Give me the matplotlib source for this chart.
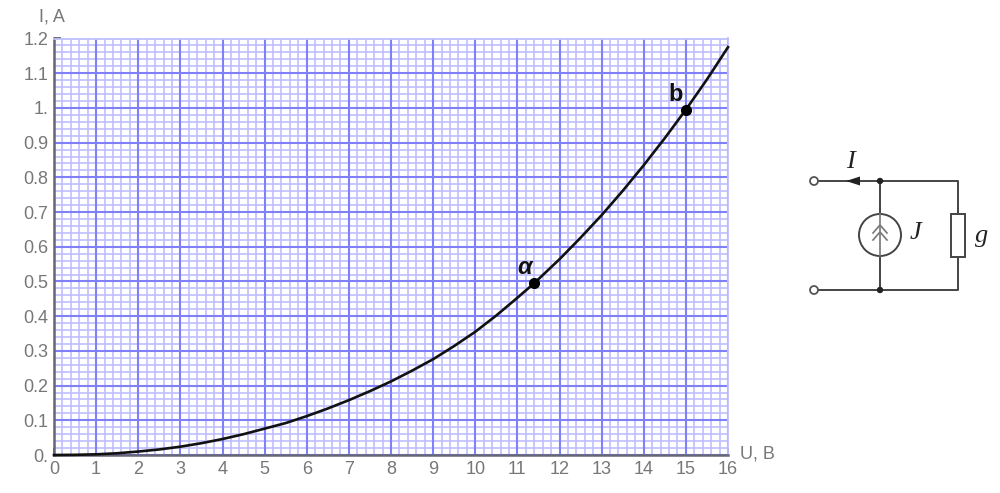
import matplotlib
matplotlib.use('Agg')
import matplotlib.pyplot as plt
from matplotlib.patches import Circle, Rectangle, Polygon

# curve
u_vals = [0, 0.5, 1, 1.5, 2, 2.5, 3, 3.5, 4, 4.5, 5, 5.5, 6, 6.5, 7, 7.5, 8, 8.5, 9, 9.5,
          10, 10.5, 11, 11.4, 12, 12.5, 13, 13.5, 14, 14.5, 15, 15.5, 16]
i_vals = [0, 0.0005, 0.002, 0.005, 0.01, 0.016, 0.024, 0.034, 0.046, 0.06, 0.076, 0.092,
          0.112, 0.134, 0.158, 0.184, 0.212, 0.243, 0.276, 0.314, 0.355, 0.402, 0.453,
          0.495, 0.564, 0.626, 0.691, 0.761, 0.835, 0.913, 0.995, 1.082, 1.175]
point_u = [11.4, 15.0]
point_i = [0.495, 0.995]
point_names = ['α', 'b']
x_ticks = list(range(17))
y_ticks = [i / 10 for i in range(13)]
y_labels = ['0.', '0.1', '0.2', '0.3', '0.4', '0.5', '0.6', '0.7', '0.8', '0.9', '1.', '1.1', '1.2']

# circuit nodes, in picture pixels
term_x, node_x, right_x = 814, 880, 958
top_y, bot_y = 181, 290
src_y, src_r = 235, 21
res_top, res_bot, res_half = 214, 257, 7

W, H = 1000, 493
L, R, T, B = 54, 728, 38.5, 455
grey = '#777777'
major = '#8080f8'
minor = '#bfbfff'

plt.rcParams['font.family'] = ['Liberation Sans', 'DejaVu Sans']
fig = plt.figure(figsize=(10, 4.93), dpi=100)
ax = fig.add_axes([L / W, 1 - B / H, (R - L) / W, (B - T) / H])
ax.set_xlim(0, 16)
ax.set_ylim(0, 1.2)
ax.set_xticks(x_ticks)
ax.set_yticks(y_ticks)
ax.set_yticklabels(y_labels)
ax.set_xticks([i / 5 for i in range(81)], minor=True)
ax.set_yticks([i / 50 for i in range(61)], minor=True)
ax.grid(which='minor', color=minor, lw=1.2)
ax.set_axisbelow(True)
# major lines by hand so the minor grid does not cut through them
ax.vlines(x_ticks, 0, 1.2, color=major, lw=1.5, zorder=1)
ax.hlines(y_ticks, 0, 16, color=major, lw=1.5, zorder=1)
ax.tick_params(which='minor', length=0)
ax.tick_params(which='major', direction='in', length=5, width=1.2, color='#555555',
               labelsize=13, labelcolor=grey, pad=4)
for s in ['left', 'bottom']:
    ax.spines[s].set_color('#666677')
    ax.spines[s].set_linewidth(1.8)
for s in ['top', 'right']:
    ax.spines[s].set_color(minor)
    ax.spines[s].set_linewidth(1.3)

ax.plot(u_vals, i_vals, color='#111111', lw=1.9, clip_on=False, zorder=3)
ax.plot(point_u, point_i, 'o', color='black', ms=7, zorder=4)
ax.annotate(point_names[0], (point_u[0], point_i[0]), xytext=(-7, 11), textcoords='offset points',
            ha='center', va='center', fontsize=17, fontweight='bold', fontstyle='italic', color='#111111')
ax.annotate(point_names[1], (point_u[1], point_i[1]), xytext=(-7, 11), textcoords='offset points',
            ha='center', va='center', fontsize=17, fontweight='bold', color='#111111')

# overlay in picture pixels for axis names and the circuit
ov = fig.add_axes([0, 0, 1, 1])
ov.set_xlim(0, W)
ov.set_ylim(H, 0)
ov.axis('off')
ov.patch.set_alpha(0)
ov.text(52, 17, 'I, A', fontsize=13, color=grey, ha='center', va='center')
ov.text(757, 454, 'U, B', fontsize=13, color=grey, ha='center', va='center')

wire = dict(color='#444444', lw=1.4, solid_capstyle='butt', zorder=1)
ov.plot([term_x, right_x, right_x, term_x], [top_y, top_y, bot_y, bot_y], **wire)
ov.plot([node_x, node_x], [top_y, bot_y], **wire)
ov.add_patch(Circle((node_x, src_y), src_r, fc='white', ec='#444444', lw=1.4, zorder=2))
ov.plot([node_x, node_x], [src_y - src_r, src_y + src_r], zorder=3, color='#777777', lw=1.2)
for dy in [-10, -3]:
    ov.plot([node_x - 7, node_x, node_x + 7], [src_y + dy + 8, src_y + dy, src_y + dy + 8],
            color='#777777', lw=1.2, zorder=3)
ov.add_patch(Rectangle((right_x - res_half, res_top), 2 * res_half, res_bot - res_top,
                       fc='white', ec='#444444', lw=1.4, zorder=2))
for y in [top_y, bot_y]:
    ov.add_patch(Circle((term_x, y), 4, fc='white', ec='#555555', lw=1.3, zorder=3))
    ov.add_patch(Circle((node_x, y), 3.2, fc='#222222', ec='none', zorder=3))
ov.add_patch(Polygon([[846, top_y], [860, top_y - 4.5], [860, top_y + 4.5]], fc='#222222', ec='none', zorder=3))
serif = dict(family='Liberation Serif', style='italic', fontsize=19, color='#222222',
             ha='center', va='center')
ov.text(850, 162, 'I', **serif)
ov.text(915, 233, 'J', **serif)
ov.text(982, 236, 'g', **serif)

fig.savefig('out.png', dpi=100)
